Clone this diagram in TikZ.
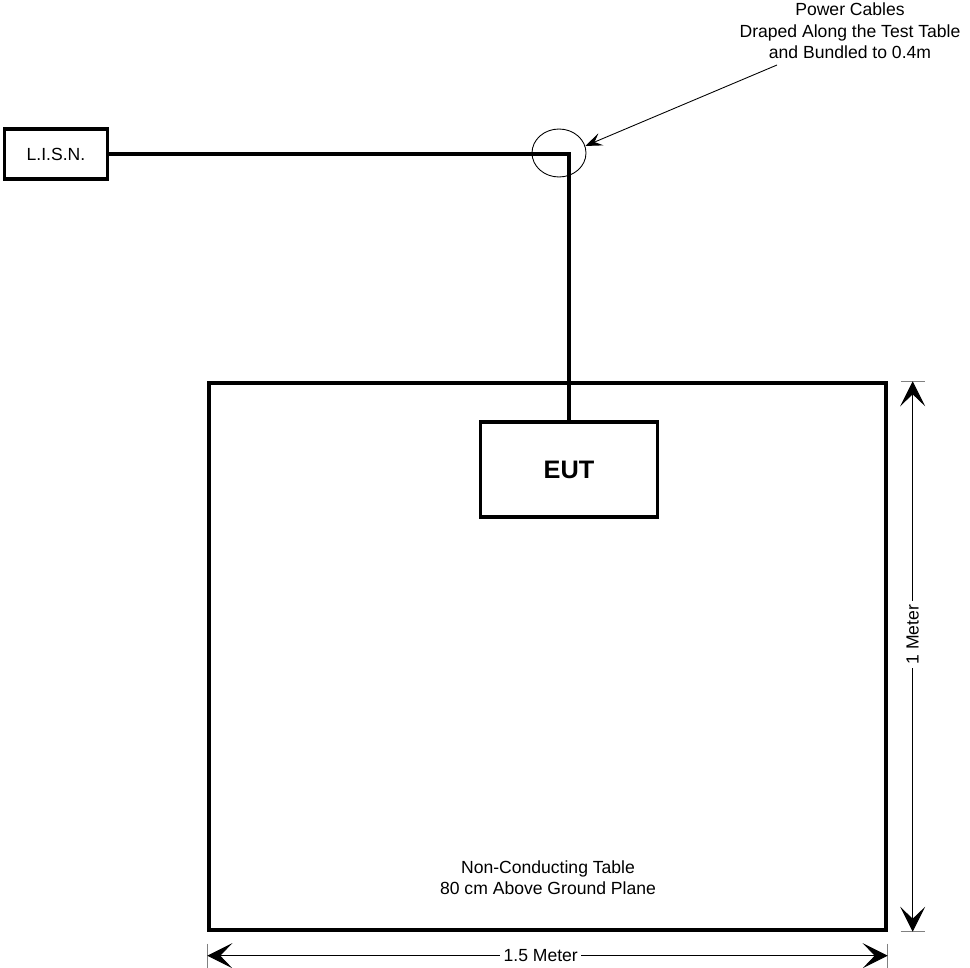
\documentclass[tikz,border=0pt]{standalone}
\usepackage{fontspec}
\setmainfont{Liberation Sans}
\usetikzlibrary{arrows.meta,positioning,shapes.geometric}

\begin{document}
\begin{tikzpicture}[x=0.02cm,y=-0.02cm,
  box/.style={draw,line width=2pt,inner sep=0pt},
  cable/.style={line width=2pt},
  dim/.style={line width=0.5pt,{Stealth[length=5mm,width=5mm,inset=2.4mm]}-{Stealth[length=5mm,width=5mm,inset=2.4mm]}},
  dimlabel/.style={fill=white,inner sep=2pt},
  >=Stealth]
\useasboundingbox (0,0) rectangle (970,967);
% equipment
\node[box,minimum width=2.06cm,minimum height=1cm] (lisn) at (56,154) {L.I.S.N.};
\node[box,minimum width=13.54cm,minimum height=10.94cm] (table) at (547.5,656.5) {};
\node[box,minimum width=3.54cm,minimum height=1.9cm,font=\Large\bfseries] (eut) at (569,469.5) {EUT};
\node[align=center] at (548,878) {Non-Conducting Table\\80 cm Above Ground Plane};
% power cable and bundle
\draw[cable] (lisn.east) -| (eut.north);
\node[ellipse,draw,line width=0.5pt,minimum width=1.08cm,minimum height=0.96cm,inner sep=0pt] (bundle) at (559,153) {};
\node[align=center,anchor=north] (note) at (850,-3) {Power Cables\\Draped Along the Test Table\\and Bundled to 0.4m};
\coordinate (tail) at (777,65);
\draw[line width=0.5pt,-{Stealth[length=3.4mm,width=2.6mm,inset=1.4mm]}] (tail) -- (bundle.15);
% dimensions
\coordinate (vt) at ([xshift=0.5cm]table.north east);
\coordinate (vb) at ([xshift=0.5cm]table.south east);
\coordinate (hl) at ([yshift=-0.48cm]table.south west);
\coordinate (hr) at ([yshift=-0.48cm]table.south east);
\draw[line width=0.5pt,gray] ([xshift=-0.24cm]vt) -- ([xshift=0.24cm]vt);
\draw[line width=0.5pt,gray] ([xshift=-0.24cm]vb) -- ([xshift=0.24cm]vb);
\draw[line width=0.5pt,gray] ([yshift=0.24cm]hl) -- ([yshift=-0.26cm]hl);
\draw[line width=0.5pt,gray] ([yshift=0.24cm]hr) -- ([yshift=-0.26cm]hr);
\draw[dim] (vt) -- (vb) node[dimlabel,pos=0.46,rotate=90] (vlabel) {1 Meter};
\draw[dim] (hl) -- (hr) node[dimlabel,pos=0.49] (hlabel) {1.5 Meter};
\end{tikzpicture}
\end{document}
